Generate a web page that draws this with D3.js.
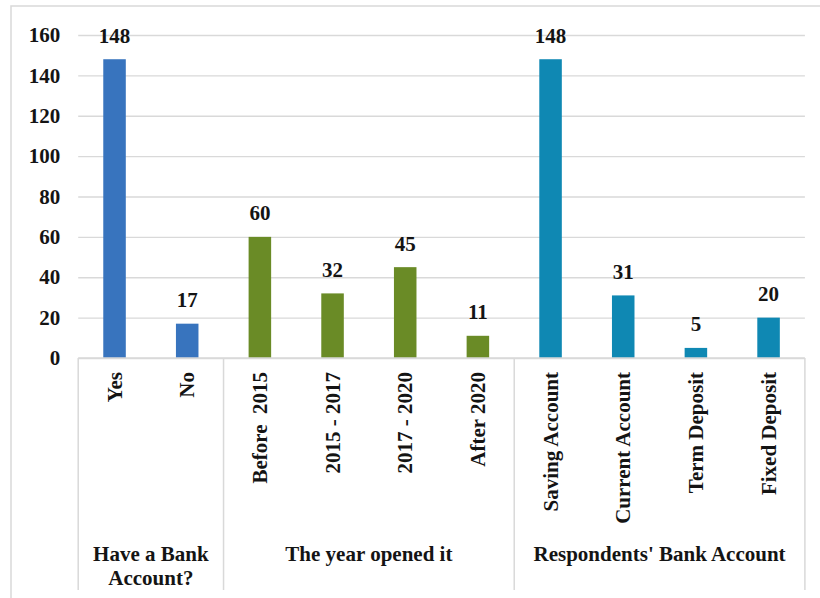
<!DOCTYPE html>
<html>
<head>
<meta charset="utf-8">
<script src="https://cdn.jsdelivr.net/npm/d3@7"></script>
<style>
  html, body { margin: 0; padding: 0; background: #fff; }
  svg { display: block; }
  text { font-family: "Liberation Serif", "Times New Roman", serif; font-weight: bold; fill: #141414; }
</style>
</head>
<body>
<svg id="chart" width="820" height="598"></svg>
<script>
// Survey answers, grouped into three question blocks
const categories = ["Yes", "No", "Before  2015", "2015 - 2017", "2017 - 2020", "After 2020",
                    "Saving Account", "Current Account", "Term Deposit", "Fixed Deposit"];
const values = [148, 17, 60, 32, 45, 11, 148, 31, 5, 20];
const groupOf = [0, 0, 1, 1, 1, 1, 2, 2, 2, 2];
const groupNames = [["Have a Bank", "Account?"], ["The year opened it"], ["Respondents' Bank Account"]];
const groupColors = ["#3874be", "#6a8b26", "#0f88b3"];
const yTicks = [0, 20, 40, 60, 80, 100, 120, 140, 160];

const svg = d3.select("#chart");
const plot = { left: 78.2, right: 804.9, top: 35, bottom: 358 };
const gridColor = "#d9d9d9";

// Outer chart frame
svg.append("rect")
  .attr("x", 11).attr("y", 6).attr("width", 812).attr("height", 600)
  .attr("fill", "none").attr("stroke", gridColor).attr("stroke-width", 1.5);

const x = d3.scaleBand().domain(categories).range([plot.left, plot.right]).padding(0);
const y = d3.scaleLinear().domain([0, 160]).range([plot.bottom, plot.top]);
const barW = x.step() * 0.31;

// Horizontal gridlines and value axis labels
const yAxis = d3.axisLeft(y).tickValues(yTicks).tickSize(-(plot.right - plot.left)).tickPadding(18);
const gy = svg.append("g").attr("transform", `translate(${plot.left},0)`).call(yAxis);
gy.select(".domain").remove();
gy.selectAll(".tick line").attr("stroke", gridColor).attr("stroke-width", 1.4);
gy.selectAll(".tick text").attr("font-size", 21).attr("fill", "#141414")
  .attr("font-family", "Liberation Serif").attr("font-weight", "bold");

// Bars
svg.append("g").selectAll("rect").data(categories).join("rect")
  .attr("x", (d) => x(d) + (x.step() - barW) / 2)
  .attr("y", (d, i) => y(values[i]))
  .attr("width", barW)
  .attr("height", (d, i) => y(0) - y(values[i]))
  .attr("fill", (d, i) => groupColors[groupOf[i]]);

// Value labels above bars
svg.append("g").selectAll("text").data(categories).join("text")
  .attr("x", (d) => x(d) + x.step() / 2)
  .attr("y", (d, i) => y(values[i]) - 16.5)
  .attr("text-anchor", "middle")
  .attr("font-size", 21)
  .text((d, i) => values[i]);

// Category axis: baseline, group separators, rotated labels, group titles
const axisBottom = 590;
svg.append("line")
  .attr("x1", plot.left).attr("x2", plot.right)
  .attr("y1", y(0)).attr("y2", y(0))
  .attr("stroke", gridColor).attr("stroke-width", 1.5);

const groupBounds = [];
groupNames.forEach((g, gi) => {
  const idx = groupOf.map((v, i) => v === gi ? i : -1).filter((i) => i >= 0);
  groupBounds.push([x(categories[idx[0]]), x(categories[idx[idx.length - 1]]) + x.step()]);
});
const sepXs = [groupBounds[0][0]].concat(groupBounds.map((b) => b[1]));
svg.append("g").selectAll("line").data(sepXs).join("line")
  .attr("x1", (d) => d).attr("x2", (d) => d)
  .attr("y1", y(0)).attr("y2", axisBottom)
  .attr("stroke", gridColor).attr("stroke-width", 1.5);

svg.append("g").selectAll("text").data(categories).join("text")
  .attr("transform", (d) => `translate(${x(d) + x.step() / 2 + 7},${y(0) + 14}) rotate(-90)`)
  .attr("text-anchor", "end")
  .attr("font-size", 21)
  .attr("xml:space", "preserve")
  .style("white-space", "pre")
  .text((d) => d);

groupNames.forEach((lines, gi) => {
  const cx = (groupBounds[gi][0] + groupBounds[gi][1]) / 2;
  const t = svg.append("text").attr("x", cx).attr("y", 561)
    .attr("text-anchor", "middle").attr("font-size", 21);
  lines.forEach((ln, li) => {
    t.append("tspan").attr("x", cx).attr("dy", li === 0 ? 0 : 24).text(ln);
  });
});
</script>
</body>
</html>
